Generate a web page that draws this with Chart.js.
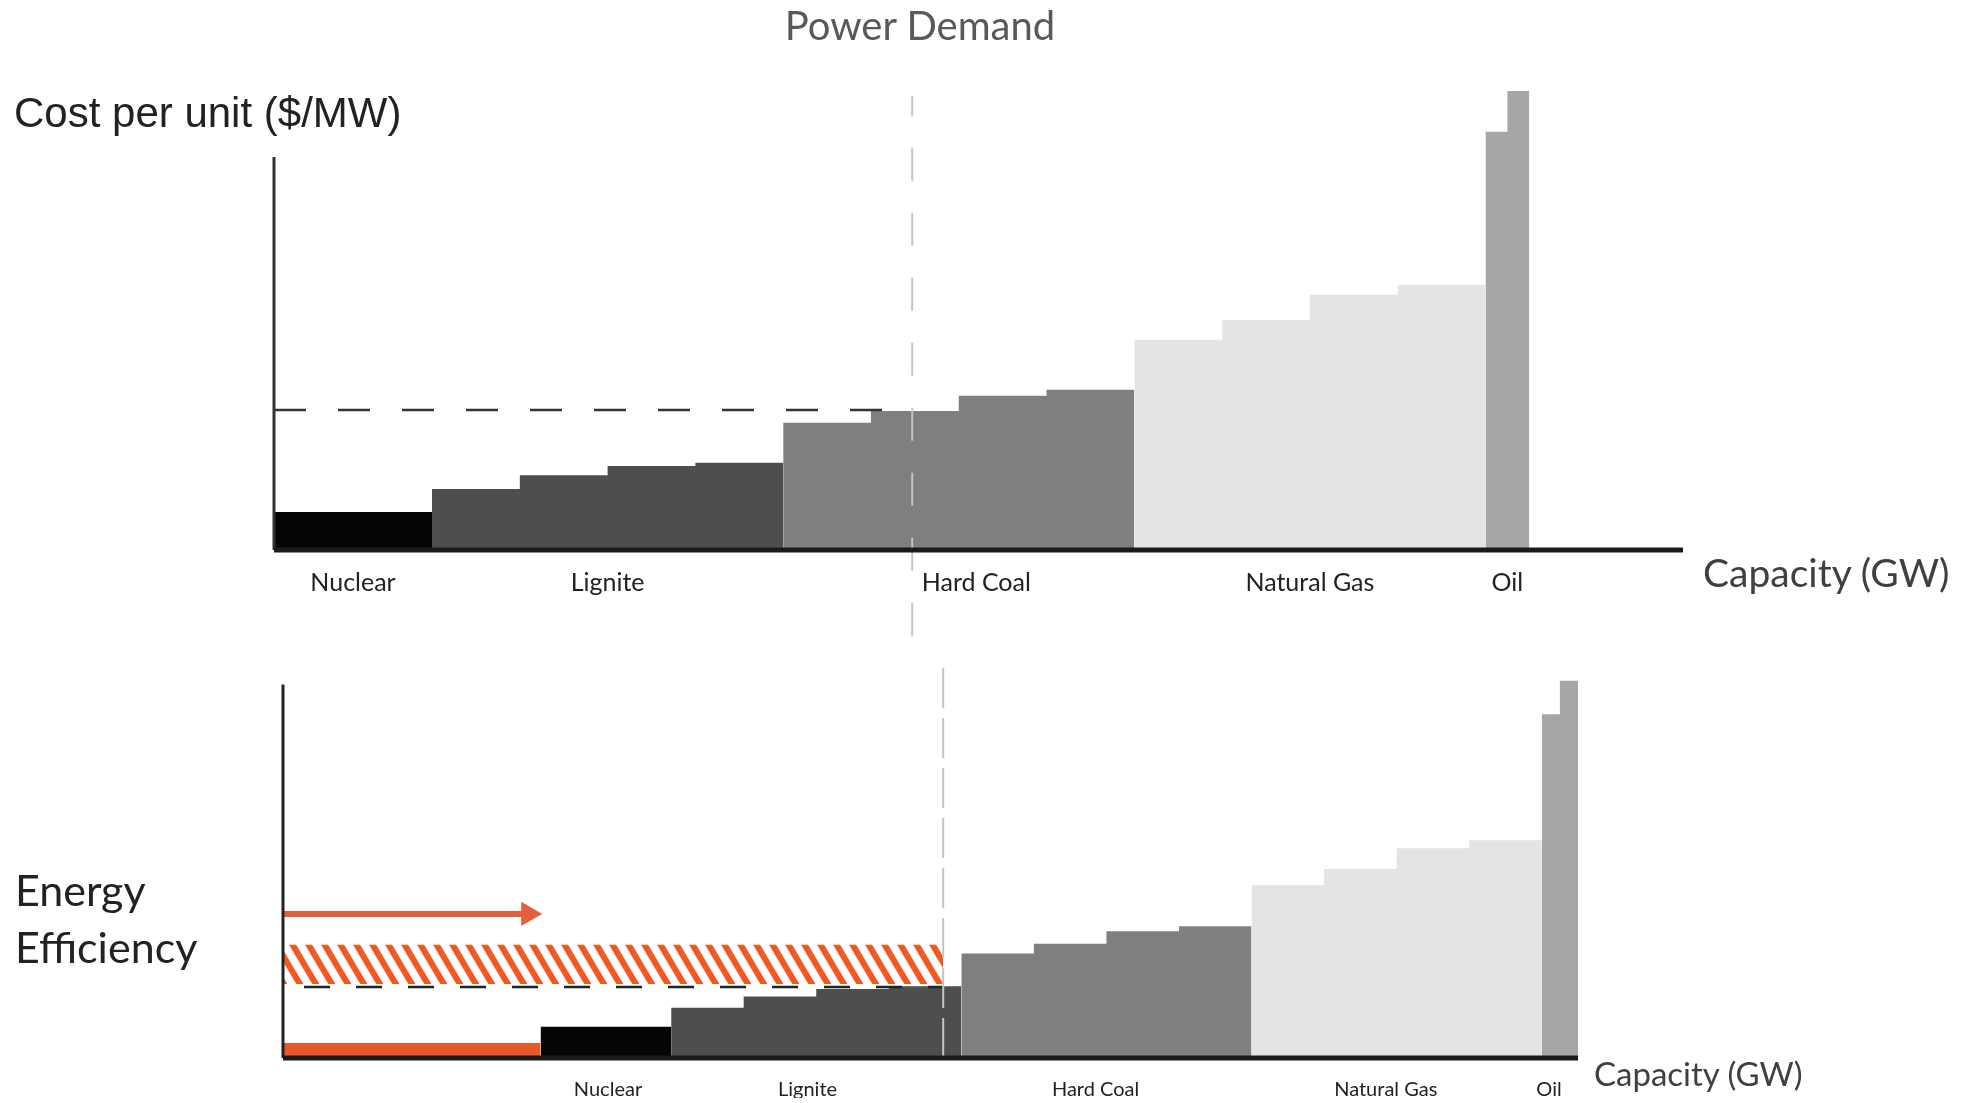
<!DOCTYPE html>
<html>
<head>
<meta charset="utf-8">
<script src="https://cdn.jsdelivr.net/npm/chart.js@4.4.1/dist/chart.umd.min.js"></script>
<style>
  body { margin: 0; background: #fff; width: 1967px; height: 1103px; position: relative; overflow: hidden; }
  canvas { position: absolute; left: 0; }
  .t { position: absolute; white-space: nowrap; line-height: 1; }
  .lato { font-family: Lato, "Open Sans", sans-serif; }
</style>
</head>
<body>
<canvas id="costChart" width="1967" height="640" style="top:0"></canvas>
<canvas id="effChart" width="1967" height="463" style="top:640px"></canvas>

<div class="t lato" style="left:920px;top:25px;transform:translate(-50%,-50%);font-size:40px;color:#595959">Power Demand</div>
<div class="t" style="left:14px;top:113px;transform:translateY(-50%);font-family:'Liberation Sans',Arial,sans-serif;font-size:42px;color:#222">Cost per unit ($/MW)</div>
<div class="t lato" style="left:1703px;top:572px;transform:translateY(-50%);font-size:39px;color:#404040">Capacity (GW)</div>
<div class="t lato" style="left:15px;top:889px;transform:translateY(-50%);font-size:43px;color:#222">Energy</div>
<div class="t lato" style="left:15px;top:946px;transform:translateY(-50%);font-size:43px;color:#222">Efficiency</div>
<div class="t lato" style="left:1594px;top:1073px;transform:translateY(-50%);font-size:33px;color:#404040">Capacity (GW)</div>

<script>
// merit order: fuel groups and their colours
const fuels = ['Nuclear', 'Lignite', 'Hard Coal', 'Natural Gas', 'Oil'];
const fuelColors = ['#050505', '#4e4e4e', '#7f7f7f', '#e4e4e4', '#a6a6a6'];

// capacity of each plant block (GW)
const nuclearGW = [18];
const ligniteGW = [10, 10, 10, 10];
const hardCoalGW = [10, 10, 10, 10];
const gasGW = [10, 10, 10, 10];
const oilGW = [2.5, 2.5];

// cost per unit of each block (relative $/MW)
const nuclearCost = [8.3];
const ligniteCost = [13.3, 16.3, 18.3, 19.0];
const hardCoalCost = [27.7, 30.3, 33.6, 34.9];
const gasCost = [45.8, 50.1, 55.6, 57.7];
const oilCost = [91.1, 100];

// demand and efficiency
const efficiencyGW = 35.5;
const demandTopGW = 72.7;
const demandBottomGW = 91;
const priceTop = 30.5;
const priceBottom = 18.8;
const hatchLow = 19.6;
const hatchHigh = 30;
const arrowLevel = 38.2;
const efficiencyBarLevel = 4;

// where the fuel names sit under each axis
const topLabelAt = [9, 38, 80, 118, 140.5];
const bottomLabelAt = [44.8, 72.3, 112, 152, 174.5];

const groupGW = [nuclearGW, ligniteGW, hardCoalGW, gasGW, oilGW];
const groupCost = [nuclearCost, ligniteCost, hardCoalCost, gasCost, oilCost];

function steps(start, widths, costs) {
  const pts = [];
  let x = start;
  widths.forEach((w, i) => { pts.push({ x: x, y: costs[i] }); x += w; });
  pts.push({ x: x, y: costs[costs.length - 1] });
  return pts;
}

function stackDatasets(shift) {
  let x = shift;
  return groupGW.map((widths, g) => {
    const pts = steps(x, widths, groupCost[g]);
    x = pts[pts.length - 1].x;
    return {
      data: pts, stepped: true, fill: 'origin',
      backgroundColor: fuelColors[g], borderColor: 'rgba(0,0,0,0)', borderWidth: 0,
      pointRadius: 0, order: 10
    };
  });
}

function line(pts, color, width, dash, order) {
  return {
    data: pts, borderColor: color, borderWidth: width, borderDash: dash || [],
    pointRadius: 0, fill: false, clip: false, order: order
  };
}

function hatchPattern() {
  const P = 16, H = 27;
  const c = document.createElement('canvas');
  c.width = P; c.height = H;
  const g = c.getContext('2d');
  g.fillStyle = '#fff';
  g.fillRect(0, 0, P, H);
  g.strokeStyle = '#f05a22';
  g.lineWidth = 6;
  for (let k = -2; k <= 2; k++) {
    g.beginPath();
    g.moveTo(k * P - P, -H);
    g.lineTo(k * P + 2 * P, 2 * H);
    g.stroke();
  }
  return g.createPattern(c, 'repeat');
}

function options(xMax, yMax, pad, axisH, labelAt, fontSize, tickPad) {
  return {
    responsive: false,
    animation: false,
    layout: { padding: pad, autoPadding: false },
    plugins: { legend: { display: false }, tooltip: { enabled: false }, title: { display: false } },
    scales: {
      x: {
        type: 'linear', min: 0, max: xMax,
        grid: { display: false, drawTicks: false }, border: { display: false },
        afterBuildTicks: s => { s.ticks = labelAt.map(v => ({ value: v })); },
        afterFit: s => { s.height = axisH; },
        ticks: {
          autoSkip: false, maxRotation: 0, padding: tickPad, color: '#222',
          font: { family: 'Lato', size: fontSize },
          callback: (v, i) => fuels[i]
        }
      },
      y: { type: 'linear', min: 0, max: yMax, display: false }
    }
  };
}

// top chart: cost per unit vs capacity
new Chart(document.getElementById('costChart'), {
  type: 'line',
  data: {
    datasets: [
      line([{ x: 0, y: 0 }, { x: 160.5, y: 0 }], '#1a1a1a', 5, null, 0),
      line([{ x: 0, y: 0 }, { x: 0, y: 85.6 }], '#333', 3, null, 0),
      line([{ x: demandTopGW, y: -18.7 }, { x: demandTopGW, y: 98.9 }], '#c4c4c4', 2, [33, 32], 1),
      line([{ x: 0, y: priceTop }, { x: demandTopGW, y: priceTop }], '#333', 2.5, [32, 32], 2)
    ].concat(stackDatasets(0))
  },
  options: options(160.5, 110, { left: 274, right: 284, top: 45, bottom: 30 }, 60, topLabelAt, 25, 18)
});

// bottom chart: the same stack shifted right by energy efficiency
const arrow = line([{ x: 0, y: arrowLevel }, { x: 33.8, y: arrowLevel }], '#e2613b', 6, null, 2);
arrow.pointRadius = [0, 14];
arrow.pointStyle = 'triangle';
arrow.pointRotation = 90;
arrow.pointBackgroundColor = '#e2613b';
arrow.pointBorderColor = 'rgba(0,0,0,0)';
arrow.pointBorderWidth = 0;

new Chart(document.getElementById('effChart'), {
  type: 'line',
  data: {
    datasets: [
      line([{ x: 0, y: 0 }, { x: 178.5, y: 0 }], '#1a1a1a', 5, null, 0),
      line([{ x: 0, y: 0 }, { x: 0, y: 99 }], '#222', 3, null, 0),
      line([{ x: demandBottomGW, y: 0 }, { x: demandBottomGW, y: 104.2 }], '#c4c4c4', 2, [40, 10], 1),
      line([{ x: 2.9, y: priceBottom }, { x: demandBottomGW, y: priceBottom }], '#222', 2.5, [26, 26], 2),
      arrow,
      {
        data: [{ x: 0, y: hatchHigh }, { x: demandBottomGW, y: hatchHigh }],
        fill: { value: hatchLow }, backgroundColor: hatchPattern(),
        borderColor: 'rgba(0,0,0,0)', borderWidth: 0, pointRadius: 0, order: 3
      },
      {
        data: [{ x: 0, y: efficiencyBarLevel }, { x: efficiencyGW, y: efficiencyBarLevel }],
        fill: 'origin', backgroundColor: '#e8582a',
        borderColor: 'rgba(0,0,0,0)', borderWidth: 0, pointRadius: 0, order: 3
      }
    ].concat(stackDatasets(efficiencyGW))
  },
  options: options(178.5, 110, { left: 283, right: 389, top: 3, bottom: 5 }, 40, bottomLabelAt, 20, 20)
});
</script>
</body>
</html>
